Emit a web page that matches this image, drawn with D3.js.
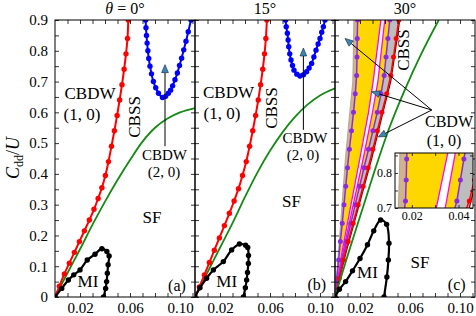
<!DOCTYPE html>
<html>
<head>
<meta charset="utf-8">
<script src="https://cdn.jsdelivr.net/npm/d3@7"></script>
<style>
  body { margin: 0; background: #fff; }
  svg text { font-family: "Liberation Serif", "Times New Roman", serif; fill: #000; }
</style>
</head>
<body>
<div id="chart"></div>
<script>
// points are [t/U, Cdd/U]

// panel (a), theta = 0
const redA = [[0,0],[0.0035,0.035],[0.0075,0.075],[0.0115,0.11],[0.0155,0.145],[0.0195,0.18],[0.0235,0.215],[0.0275,0.25],[0.0312,0.285],[0.0345,0.32],[0.0375,0.355],[0.0403,0.395],[0.0428,0.44],[0.0452,0.49],[0.0475,0.54],[0.0497,0.59],[0.0517,0.64],[0.0536,0.69],[0.0553,0.74],[0.0568,0.79],[0.058,0.84],[0.0586,0.9]];
const blueA = [[0.0725,0.9],[0.0728,0.875],[0.0732,0.85],[0.0737,0.825],[0.0743,0.80],[0.075,0.775],[0.076,0.75],[0.0772,0.725],[0.0787,0.70],[0.0806,0.68],[0.0828,0.662],[0.086,0.648],[0.0885,0.652],[0.0907,0.662],[0.0925,0.672],[0.0941,0.686],[0.096,0.706],[0.0979,0.728],[0.0996,0.752],[0.1013,0.776],[0.103,0.803],[0.1048,0.831],[0.1066,0.862],[0.1088,0.9]];
const greenA = [[0,0],[0.01,0.078],[0.02,0.155],[0.03,0.235],[0.04,0.31],[0.05,0.38],[0.06,0.445],[0.07,0.505],[0.08,0.55],[0.09,0.58],[0.1,0.6],[0.112,0.614]];
const miA = [[0,0],[0.0054,0.028],[0.0107,0.055],[0.015,0.072],[0.02,0.088],[0.0258,0.12],[0.032,0.139],[0.0375,0.157],[0.0415,0.148],[0.0433,0.133],[0.0425,0.105],[0.0419,0.077],[0.0413,0.05],[0.0405,0.028],[0.0388,0]];

// panel (b), theta = 15
const redB = [[0,0],[0.0035,0.033],[0.0075,0.072],[0.0115,0.112],[0.0155,0.152],[0.0195,0.192],[0.0235,0.232],[0.0275,0.272],[0.0313,0.312],[0.0348,0.352],[0.038,0.395],[0.041,0.44],[0.0437,0.49],[0.0462,0.54],[0.0485,0.59],[0.0506,0.64],[0.0525,0.69],[0.0542,0.74],[0.0556,0.79],[0.0567,0.84],[0.0575,0.9]];
const blueB = [[0.0725,0.9],[0.073,0.878],[0.0739,0.857],[0.0745,0.835],[0.075,0.813],[0.0758,0.79],[0.0768,0.77],[0.078,0.752],[0.0792,0.737],[0.0815,0.724],[0.084,0.718],[0.0868,0.722],[0.0893,0.732],[0.0913,0.744],[0.0933,0.759],[0.0951,0.78],[0.0968,0.802],[0.0985,0.822],[0.1,0.84],[0.1014,0.86],[0.1027,0.878],[0.104,0.9]];
const greenB = [[0,0],[0.01,0.08],[0.02,0.16],[0.03,0.24],[0.04,0.325],[0.05,0.405],[0.06,0.475],[0.07,0.535],[0.08,0.585],[0.09,0.625],[0.1,0.655],[0.112,0.678]];
const miB = [[0,0],[0.004,0.03],[0.0093,0.061],[0.0147,0.088],[0.0227,0.115],[0.0293,0.153],[0.0355,0.172],[0.0405,0.168],[0.0422,0.161],[0.0428,0.135],[0.0427,0.109],[0.042,0.08],[0.0413,0.055],[0.0403,0.03],[0.0387,0]];

// panel (c), theta = 30
const tanC = [[0,0],[0.0028,0.15],[0.0056,0.3],[0.0083,0.45],[0.0118,0.6],[0.0142,0.7],[0.0146,0.78],[0.0149,0.86],[0.0151,0.9]];
const purpleLC = [[0,0],[0.0014,0.06],[0.0029,0.12],[0.0043,0.18],[0.0058,0.24],[0.0072,0.30],[0.0086,0.36],[0.0100,0.42],[0.0115,0.48],[0.0132,0.54],[0.0148,0.60],[0.0162,0.66],[0.0173,0.72],[0.0176,0.78],[0.0178,0.84],[0.0181,0.90]];
const magentaLC = [[0,0],[0.0058,0.15],[0.0128,0.3],[0.0199,0.45],[0.0268,0.6],[0.0305,0.7],[0.0330,0.78],[0.0355,0.86],[0.0367,0.9]];
const magentaRC = [[0,0],[0.0066,0.15],[0.0146,0.3],[0.0226,0.45],[0.0300,0.6],[0.0343,0.7],[0.0365,0.78],[0.0387,0.86],[0.0398,0.9]];
const purpleRC = [[0,0],[0.0030,0.06],[0.0059,0.12],[0.0092,0.18],[0.0127,0.24],[0.0162,0.30],[0.0197,0.36],[0.0232,0.42],[0.0268,0.48],[0.0303,0.54],[0.0338,0.60],[0.0368,0.66],[0.0393,0.72],[0.0408,0.78],[0.0423,0.84],[0.0438,0.90]];
const redC = [[0,0],[0.0034,0.06],[0.0068,0.12],[0.0105,0.18],[0.0145,0.24],[0.0185,0.30],[0.0225,0.36],[0.0265,0.42],[0.0303,0.48],[0.0339,0.54],[0.0375,0.60],[0.0413,0.66],[0.0446,0.72],[0.0468,0.78],[0.0489,0.84],[0.0510,0.90]];
const darkRedC = [[0,0],[0.0092,0.15],[0.0194,0.3],[0.0294,0.45],[0.0384,0.6],[0.0446,0.7],[0.0476,0.78],[0.0504,0.86],[0.0518,0.9]];
const greenC = [[0,0],[0.0105,0.14],[0.0215,0.28],[0.0325,0.42],[0.0435,0.55],[0.0555,0.67],[0.069,0.79],[0.083,0.9]];
const miC = [[0,0],[0.0035,0.025],[0.0085,0.05],[0.014,0.085],[0.02,0.125],[0.026,0.17],[0.031,0.215],[0.0365,0.25],[0.0413,0.236],[0.0432,0.175],[0.0427,0.12],[0.0415,0.065],[0.0392,0]];

const xTickLabels = [0.02, 0.06, 0.10];
const yTickLabels = [0, 0.1, 0.2, 0.3, 0.4, 0.5, 0.6, 0.7, 0.8, 0.9];
const insetXLabels = [0.02, 0.04];
const insetYLabels = [0.7, 0.8];

const W = 476, H = 316;
const plotTop = 20, plotBottom = 297;
const panelX = [55, 195, 335];
const pw = 140, ph = plotBottom - plotTop;

const RED = "#ff0000", BLUE = "#0000ff", GREEN = "#138a13", PURPLE = "#8a2be2",
      MAGENTA = "#ff00ff", DARKRED = "#8b0000", GOLD = "#ffd700", GREY = "#bdbdbd", TAN = "#d2b48c",
      HEAD = "#3a86b4";

const svg = d3.select("#chart").append("svg")
    .attr("width", W).attr("height", H);
svg.append("rect").attr("width", W).attr("height", H).attr("fill", "#fff");

const x = d3.scaleLinear().domain([0, 0.112]).range([0, pw]);
const y = d3.scaleLinear().domain([0, 0.9]).range([ph, 0]);

const near = (arr, d) => arr.some(v => Math.abs(v - d) < 1e-9);

function axes(g, xs, ys, w, h, o) {
    const fx = d => near(o.xLabels, d) ? d.toFixed(2) : "";
    const fy = d => o.showY && near(o.yLabels, d) ? String(+d.toFixed(2)) : "";
    const parts = [
        g.append("g").attr("transform", `translate(0,${h})`)
            .call(d3.axisBottom(xs).tickValues(o.xTicks).tickSize(-o.ts).tickPadding(o.padX).tickFormat(fx)),
        g.append("g")
            .call(d3.axisTop(xs).tickValues(o.xTicks).tickSize(-o.ts).tickFormat("")),
        g.append("g")
            .call(d3.axisLeft(ys).tickValues(o.yTicks).tickSize(-o.ts).tickPadding(o.padY).tickFormat(fy)),
        g.append("g").attr("transform", `translate(${w},0)`)
            .call(d3.axisRight(ys).tickValues(o.yTicks).tickSize(-o.ts).tickFormat(""))
    ];
    parts.forEach(a => {
        a.select(".domain").remove();
        a.attr("font-family", null).attr("font-size", o.fs);
        a.selectAll("line").attr("stroke", "#000").attr("stroke-width", 0.8);
    });
    g.append("rect").attr("width", w).attr("height", h)
        .attr("fill", "none").attr("stroke", "#000").attr("stroke-width", 1);
}

function curve(gp, data, xs, ys, color, sw, dots, interp) {
    const ln = d3.line().x(d => xs(d[0])).y(d => ys(d[1])).curve(interp || d3.curveLinear);
    gp.append("path").datum(data).attr("d", ln)
        .attr("fill", "none").attr("stroke", color).attr("stroke-width", sw);
    if (dots) {
        gp.selectAll(null).data(data).enter().append("circle")
            .attr("cx", d => xs(d[0])).attr("cy", d => ys(d[1]))
            .attr("r", dots).attr("fill", color);
    }
}

function label(g, txt, px, py, size, rot) {
    const t = g.append("text")
        .attr("text-anchor", "middle")
        .attr("font-size", size)
        .text(txt);
    if (rot) {
        t.attr("dominant-baseline", "central")
         .attr("transform", `translate(${x(px)},${y(py)}) rotate(-90)`);
    } else {
        t.attr("x", x(px)).attr("y", y(py));
    }
}

function arrow(g, x0, y0, x1, y1) {
    const ax = x(x0), ay = y(y0), bx = x(x1), by = y(y1);
    const dx = bx - ax, dy = by - ay, L = Math.hypot(dx, dy);
    const ux = dx / L, uy = dy / L, hl = 8, hw = 3.4;
    const cx = bx - ux * hl, cy = by - uy * hl;
    g.append("line").attr("x1", ax).attr("y1", ay).attr("x2", cx).attr("y2", cy)
        .attr("stroke", "#000").attr("stroke-width", 1);
    g.append("path")
        .attr("d", `M${bx},${by}L${cx - uy * hw},${cy + ux * hw}L${cx + uy * hw},${cy - ux * hw}Z`)
        .attr("fill", HEAD).attr("stroke", "#123").attr("stroke-width", 0.6);
}

const mainOpts = {
    xTicks: d3.range(1, 12).map(i => i / 100),
    yTicks: d3.range(0, 19).map(i => i * 0.05),
    xLabels: xTickLabels, yLabels: yTickLabels,
    ts: 4, padX: 5, padY: 7, fs: 15, showY: false
};

function makePanel(i) {
    const g = svg.append("g").attr("transform", `translate(${panelX[i]},${plotTop})`);
    g.append("clipPath").attr("id", "clip" + i)
        .append("rect").attr("width", pw).attr("height", ph);
    const plot = g.append("g").attr("clip-path", `url(#clip${i})`);
    return { g, plot };
}

// panels (a) and (b)
[[redA, blueA, greenA, miA], [redB, blueB, greenB, miB]].forEach((set, i) => {
    const { g, plot } = makePanel(i);
    const [red, blue, green, mi] = set;
    const cr = d3.curveCatmullRom;
    curve(plot, green, x, y, GREEN, 1.8, 0, cr);
    curve(plot, red, x, y, RED, 2, 2.7, cr);
    curve(plot, blue, x, y, BLUE, 2, 2.7, cr);
    curve(plot, mi, x, y, "#000", 2.2, 2.7, cr);
    axes(g, x, y, pw, ph, Object.assign({}, mainOpts, { showY: i === 0 }));
});

// panel (a) texts
(function () {
    const g = svg.append("g").attr("transform", `translate(${panelX[0]},${plotTop})`);
    label(g, "CBDW", 0.028, 0.643, 17);
    label(g, "(1, 0)", 0.0216, 0.575, 17);
    label(g, "CBSS", 0.0636, 0.585, 17, true);
    label(g, "CBDW", 0.0876, 0.445, 15);
    label(g, "(2, 0)", 0.0872, 0.39, 15);
    label(g, "SF", 0.0776, 0.24, 17);
    label(g, "MI", 0.0264, 0.0325, 17);
    label(g, "(a)", 0.0976, 0.0195, 16);
    arrow(g, 0.088, 0.49, 0.088, 0.755);
})();

// panel (b) texts
(function () {
    const g = svg.append("g").attr("transform", `translate(${panelX[1]},${plotTop})`);
    label(g, "CBDW", 0.0268, 0.646, 17);
    label(g, "(1, 0)", 0.0216, 0.578, 17);
    label(g, "CBSS", 0.0608, 0.614, 17, true);
    label(g, "CBDW", 0.088, 0.50, 15);
    label(g, "(2, 0)", 0.0864, 0.445, 15);
    label(g, "SF", 0.0772, 0.292, 17);
    label(g, "MI", 0.0254, 0.0325, 17);
    label(g, "(b)", 0.0974, 0.023, 16);
    arrow(g, 0.0867, 0.543, 0.0867, 0.809);
})();

// fan of boundaries in panel (c), used for the main axes and the inset
function drawFan(gp, xs, ys, r) {
    const ln = d3.line().x(d => xs(d[0])).y(d => ys(d[1]));
    const band = (a, b) => ln(a.concat(b.slice().reverse())) + "Z";
    gp.append("path").attr("d", band(tanC, purpleLC)).attr("fill", TAN);
    gp.append("path").attr("d", band(purpleLC, magentaLC)).attr("fill", GOLD);
    gp.append("path").attr("d", band(magentaRC, purpleRC)).attr("fill", GOLD);
    gp.append("path").attr("d", band(purpleRC, darkRedC)).attr("fill", GREY);
    curve(gp, tanC, xs, ys, "#a89a88", 0.8, 0);
    curve(gp, magentaLC, xs, ys, MAGENTA, 1.3, 0);
    curve(gp, magentaRC, xs, ys, MAGENTA, 1.3, 0);
    curve(gp, darkRedC, xs, ys, DARKRED, 1.2, 0);
    curve(gp, purpleLC, xs, ys, PURPLE, 1.5, r);
    curve(gp, purpleRC, xs, ys, PURPLE, 1.5, r);
    curve(gp, redC, xs, ys, RED, 1.5, r);
}

(function () {
    const { g, plot } = makePanel(2);
    drawFan(plot, x, y, 2.5);
    curve(plot, greenC, x, y, GREEN, 1.8, 0, d3.curveCatmullRom);
    curve(plot, miC, x, y, "#000", 2.2, 2.7, d3.curveCatmullRom);
    axes(g, x, y, pw, ph, mainOpts);
    label(g, "CBSS", 0.0544, 0.8025, 17, true);
    label(g, "CBDW", 0.0912, 0.552, 16);
    label(g, "(1, 0)", 0.0872, 0.49, 16);
    label(g, "SF", 0.068, 0.094, 17);
    label(g, "MI", 0.026, 0.062, 17);
    label(g, "(c)", 0.0974, 0.023, 16);
    arrow(g, 0.0774, 0.6075, 0.008, 0.84);
    arrow(g, 0.0774, 0.6075, 0.0294, 0.667);
    arrow(g, 0.0774, 0.6075, 0.0346, 0.52);

    // inset
    const iw = 78, ih = 55;
    const ig = svg.append("g").attr("transform", "translate(395,153)");
    ig.append("rect").attr("width", iw).attr("height", ih).attr("fill", "#fff");
    ig.append("clipPath").attr("id", "clipInset")
        .append("rect").attr("width", iw).attr("height", ih);
    const ix = d3.scaleLinear().domain([0.0128, 0.0462]).range([0, iw]);
    const iy = d3.scaleLinear().domain([0.7, 0.857]).range([ih, 0]);
    const ip = ig.append("g").attr("clip-path", "url(#clipInset)");
    drawFan(ip, ix, iy, 2.5);
    axes(ig, ix, iy, iw, ih, {
        xTicks: [0.02, 0.03, 0.04], yTicks: [0.7, 0.75, 0.8, 0.85],
        xLabels: insetXLabels, yLabels: insetYLabels,
        ts: 3, padX: 3, padY: 3, fs: 12, showY: true
    });
})();

// titles
const titles = svg.append("g").attr("font-size", 16).attr("text-anchor", "middle");
const t0 = titles.append("text").attr("x", panelX[0] + pw / 2).attr("y", 14);
t0.append("tspan").attr("font-style", "italic").text("θ");
t0.append("tspan").text(" = 0°");
titles.append("text").attr("x", panelX[1] + pw / 2).attr("y", 14).text("15°");
titles.append("text").attr("x", panelX[2] + pw / 2).attr("y", 14).text("30°");

// y label
const yl = svg.append("text").attr("font-size", 18).attr("text-anchor", "middle")
    .attr("transform", "translate(19,158) rotate(-90)");
yl.append("tspan").attr("font-style", "italic").text("C");
yl.append("tspan").attr("font-size", 12).attr("dy", 4).text("dd");
yl.append("tspan").attr("dy", -4).text("/");
yl.append("tspan").attr("font-style", "italic").text("U");
</script>
</body>
</html>
